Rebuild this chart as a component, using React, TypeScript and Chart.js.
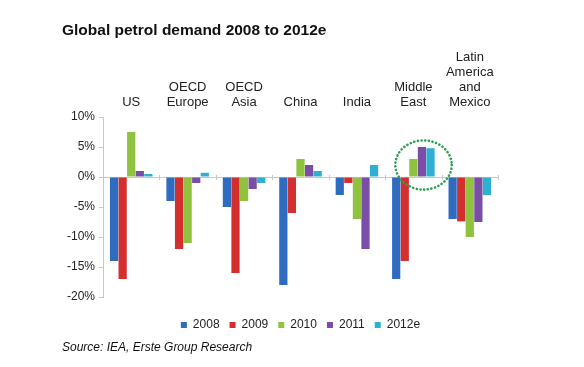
import React, { useEffect, useRef } from "react";
import { Chart, registerables } from "chart.js";
Chart.register(...registerables);

const categories: string[][] = [
  ["US"],
  ["OECD", "Europe"],
  ["OECD", "Asia"],
  ["China"],
  ["India"],
  ["Middle", "East"],
  ["Latin", "America", "and", "Mexico"],
];
const seriesNames = ["2008", "2009", "2010", "2011", "2012e"];
const s2008 = [-14, -4, -5, -18, -3, -17, -7];
const s2009 = [-17, -12, -16, -6, -1, -14, -7.4];
const s2010 = [7.5, -11, -4, 3, -7, 3, -10];
const s2011 = [1, -1, -2, 2, -12, 5, -7.5];
const s2012e = [0.5, 0.7, -1, 1, 2, 4.8, -3];
const seriesColors = ["#2f6cc0", "#d42f2f", "#8ec23f", "#7a4ea6", "#2eb0d2"];
const yTicks = [10, 5, 0, -5, -10, -15, -20];
const highlightIndex = 5.18;
const highlightRange = [-2.1, 6.1];

const FONT = "'Liberation Sans', Arial, sans-serif";

const highlightPlugin = {
  id: "highlight",
  afterDatasetsDraw(chart: any) {
    const { ctx, scales } = chart;
    const x = scales.x;
    const y = scales.y;
    const catW = (x.right - x.left) / categories.length;
    // category boundary ticks on zero line
    const y0 = y.getPixelForValue(0);
    ctx.save();
    ctx.strokeStyle = "#c8c8c8";
    ctx.lineWidth = 1;
    for (let i = 1; i <= categories.length; i++) {
      const bx = Math.round(x.left + i * catW) + 0.5;
      ctx.beginPath();
      ctx.moveTo(bx, y0 - 2);
      ctx.lineTo(bx, y0 + 3);
      ctx.stroke();
    }
    // dotted ellipse
    const cx = x.left + (highlightIndex + 0.5) * catW;
    const yTop = y.getPixelForValue(highlightRange[1]);
    const yBot = y.getPixelForValue(highlightRange[0]);
    const cy = (yTop + yBot) / 2;
    const ry = (yBot - yTop) / 2;
    const rx = catW * 0.5;
    ctx.strokeStyle = "#2e9e4f";
    ctx.lineWidth = 2.6;
    ctx.lineCap = "round";
    ctx.setLineDash([0.1, 3.6]);
    ctx.beginPath();
    ctx.ellipse(cx, cy, rx, ry, 0, 0, Math.PI * 2);
    ctx.stroke();
    ctx.restore();
  },
};

export default function App() {
  const ref = useRef<HTMLCanvasElement>(null);
  useEffect(() => {
    if (!ref.current) return;
    const allSeries = [s2008, s2009, s2010, s2011, s2012e];
    const chart = new Chart(ref.current, {
      type: "bar",
      data: {
        labels: categories,
        datasets: allSeries.map((d, i) => ({
          label: seriesNames[i],
          data: d,
          backgroundColor: seriesColors[i],
          borderWidth: 0,
          barPercentage: 0.96,
          categoryPercentage: 0.76,
        })),
      },
      options: {
        responsive: false,
        animation: false,
        layout: { padding: { left: 0, right: 86, top: 0, bottom: 26 } },
        plugins: {
          title: { display: false },
          tooltip: { enabled: false },
          legend: {
            display: true,
            position: "bottom",
            fullSize: false,
            labels: {
              boxWidth: 6,
              boxHeight: 6,
              padding: 10,
              color: "#222",
              font: { family: FONT, size: 12 },
            },
          },
        },
        scales: {
          x: {
            type: "category",
            position: "top",
            grid: { display: false },
            border: { display: false },
            ticks: {
              color: "#222",
              font: { family: FONT, size: 13, lineHeight: 1.15 },
              padding: -1,
              maxRotation: 0,
              autoSkip: false,
            },
            afterFit: (s: any) => {
              s.height = 117;
            },
          },
          x2: {
            type: "category",
            position: "bottom",
            display: true,
            grid: { display: false },
            border: { display: false },
            ticks: { display: false },
            afterFit: (s: any) => {
              s.height = 12;
            },
          },
          y: {
            min: -20,
            max: 10,
            afterBuildTicks: (s: any) => {
              s.ticks = yTicks.map((v) => ({ value: v }));
            },
            grid: {
              color: (c: any) => (c.tick && c.tick.value === 0 ? "#c8c8c8" : "rgba(0,0,0,0)"),
              tickColor: "#c8c8c8",
              tickLength: 4,
            },
            border: { color: "#c8c8c8" },
            ticks: {
              color: "#222",
              font: { family: FONT, size: 12 },
              padding: 4,
              callback: (v: any) => v + "%",
            },
            afterFit: (s: any) => {
              s.width = 103;
            },
          },
        },
      },
      plugins: [highlightPlugin],
    } as any);
    return () => chart.destroy();
  }, []);

  return (
    <div style={{ position: "absolute", left: 0, top: 0, width: 584, height: 367, background: "#fff" }}>
      <canvas ref={ref} width={584} height={367} style={{ position: "absolute", left: 0, top: 0 }} />
      <div
        style={{
          position: "absolute",
          left: 62,
          top: 22,
          fontFamily: FONT,
          fontWeight: "bold",
          fontSize: 15.5,
          lineHeight: "16px",
          color: "#111",
          whiteSpace: "nowrap",
        }}
      >
        Global petrol demand 2008 to 2012e
      </div>
      <div
        style={{
          position: "absolute",
          left: 62,
          top: 340,
          fontFamily: FONT,
          fontStyle: "italic",
          fontSize: 12,
          lineHeight: "14px",
          color: "#111",
          whiteSpace: "nowrap",
        }}
      >
        Source: IEA, Erste Group Research
      </div>
    </div>
  );
}
